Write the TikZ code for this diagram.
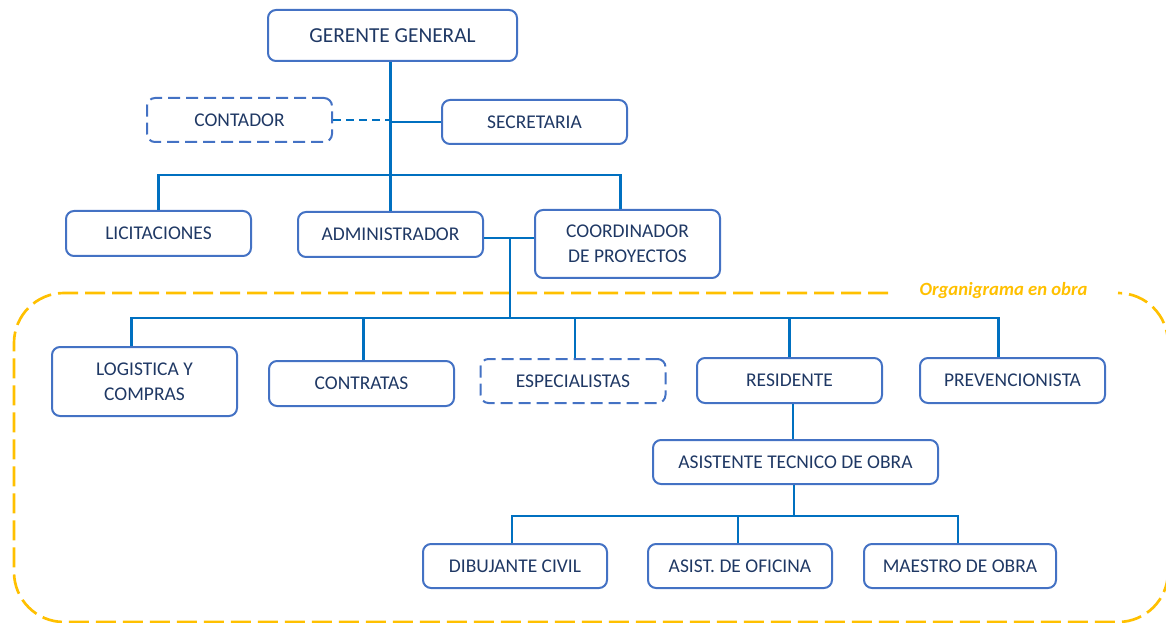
\documentclass[tikz,border=0pt]{standalone}
\usepackage{fontspec}
\setmainfont{Carlito}
\usepackage{tikz}
\usetikzlibrary{shapes.geometric, arrows}
\definecolor{bordeazul}{HTML}{4472C4}
\definecolor{lineaazul}{HTML}{0070C0}
\definecolor{textoazul}{HTML}{1F3864}
\definecolor{amarillo}{HTML}{FFC000}
\tikzstyle{cargo} = [
	rectangle,
	rounded corners=6pt,
	minimum width=138.75pt,
	minimum height=33.75pt,
	inner sep=0pt,
	text centered,
	align=center,
	draw=bordeazul,
	line width=1.5pt,
	text=textoazul,
	font=\fontsize{14.6}{19}\selectfont
]
\tikzstyle{externo} = [cargo, dash pattern=on 9pt off 4.5pt]
\tikzstyle{enlace} = [draw=lineaazul, line width=1.6pt]
\tikzstyle{obra} = [draw=amarillo, line width=2pt, dash pattern=on 15pt off 5.25pt, rounded corners=37.5pt]

\begin{document}
\begin{tikzpicture}[x=0.75pt, y=-0.75pt]
            \useasboundingbox (0,0) rectangle (1166,623);
            % zona de obra
            \draw [obra] (888,293) -- (14,293) -- (14,622) -- (1168,622) -- (1168,293) -- (1118,293);
            \node (obratitulo) [text=amarillo, font=\fontsize{14}{16}\selectfont\bfseries\itshape] at (1003.5,291) {Organigrama en obra};
            % oficina central
            \node (gerente) [cargo, minimum width=186.75pt, minimum height=38.25pt, font=\fontsize{16}{19}\selectfont] at (392.5,35.5) {GERENTE GENERAL};
            \node (contador) [externo, minimum height=33pt] at (239.5,120) {CONTADOR};
            \node (secretaria) [cargo, minimum height=33pt] at (534.5,122) {SECRETARIA};
            \node (licitaciones) [cargo] at (158.5,233.5) {LICITACIONES};
            \node (admin) [cargo] at (390.5,234.5) {ADMINISTRADOR};
            \node (coordinador) [cargo, minimum height=51pt] at (627.5,244) {COORDINADOR\\DE PROYECTOS};
            % obra
            \node (logistica) [cargo, minimum height=51.75pt] at (144.5,381.5) {LOGISTICA Y\\COMPRAS};
            \node (contratas) [cargo] at (361.5,383.5) {CONTRATAS};
            \node (especialistas) [externo, minimum height=33pt] at (573,381) {ESPECIALISTAS};
            \node (residente) [cargo] at (789.5,380.5) {RESIDENTE};
            \node (prevencionista) [cargo] at (1012.5,380.5) {PREVENCIONISTA};
            \node (asistente) [cargo, minimum width=213.75pt, minimum height=33pt] at (795.5,462) {ASISTENTE TECNICO DE OBRA};
            \node (dibujante) [cargo, minimum width=138pt, minimum height=33pt] at (515,566) {DIBUJANTE CIVIL};
            \node (oficina) [cargo, minimum width=138pt, minimum height=33pt] at (740,566) {ASIST. DE OFICINA};
            \node (maestro) [cargo, minimum width=144pt, minimum height=33pt] at (960,566) {MAESTRO DE OBRA};
            \coordinate (bus1) at (390,175);
            \coordinate (union) at (510,238);
            \coordinate (bus2) at (510,318);
            \coordinate (bus3) at (794,516);
            \draw [enlace] (admin.north) -- (admin.north |- gerente.south);
            \draw [enlace] (secretaria.west) -- (secretaria.west -| admin.north);
            \draw [enlace, dash pattern=on 6pt off 3.75pt] (contador.east) -- (contador.east -| admin.north);
            \draw [enlace] (licitaciones.north) |- (bus1) -| ([xshift=-5.25pt]coordinador.north);
            \draw [enlace] (union -| admin.east) -- (union -| coordinador.west);
            \draw [enlace] (union) -- (bus2);
            \draw [enlace] ([xshift=-9.75pt]logistica.north) |- (bus2) -| ([xshift=-10.5pt]prevencionista.north);
            \draw [enlace] ([xshift=1.5pt]contratas.north) -- ([xshift=1.5pt]contratas.north |- bus2);
            \draw [enlace] ([xshift=1.5pt]especialistas.north) -- ([xshift=1.5pt]especialistas.north |- bus2);
            \draw [enlace] (residente.north) -- (residente.north |- bus2);
            \draw [enlace] ([xshift=2.6pt]residente.south) -- ([xshift=2.6pt]residente.south |- asistente.north);
            \draw [enlace] (asistente.south -| bus3) -- (bus3);
            \draw [enlace] ([xshift=-2.25pt]dibujante.north) |- (bus3) -| ([xshift=-1.5pt]maestro.north);
            \draw [enlace] ([xshift=-1.5pt]oficina.north) -- ([xshift=-1.5pt]oficina.north |- bus3);
          \end{tikzpicture}
\end{document}
